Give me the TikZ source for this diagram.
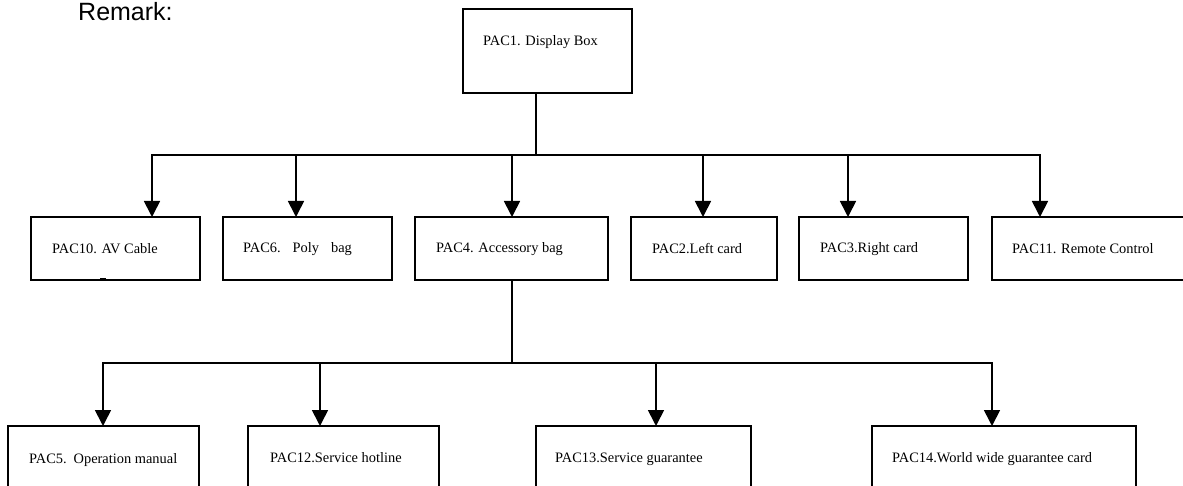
\documentclass[tikz,border=0pt]{standalone}
\usepackage{fontspec}
\setmainfont{Liberation Serif}
\newfontfamily\arialfont{Liberation Sans}
\usetikzlibrary{arrows.meta}
\tikzset{
  box/.style={draw, line width=1.7pt, inner sep=0pt, outer sep=0pt, anchor=north west},
  lbl/.style={anchor=west, inner sep=0pt, font=\fontsize{14.4}{17}\selectfont},
  conn/.style={line width=1.7pt},
  arr/.style={line width=1.7pt, -{Triangle[width=16pt,length=16pt]}},
}
\begin{document}
\begin{tikzpicture}[x=1pt,y=-1pt]
\useasboundingbox (0,0) rectangle (1183,486);
\clip (0,0) rectangle (1183,486);
\fill[white] (0,0) rectangle (1183,486);

\node[anchor=base west, inner sep=0pt, font=\arialfont\fontsize{25}{30}\selectfont] (remark) at (78,21) {Remark:};

% top box
\node[box, minimum width=169, minimum height=84] (pac1) at (463,9) {};
\node[lbl] (t1) at (483,42) {PAC1. Display Box};

% row 1
\node[box, minimum width=169, minimum height=63] (pac10) at (31,217) {};
\node[box, minimum width=169, minimum height=63] (pac6) at (223,217) {};
\node[box, minimum width=193, minimum height=63] (pac4) at (415,217) {};
\node[box, minimum width=146, minimum height=63] (pac2) at (631,217) {};
\node[box, minimum width=169, minimum height=63] (pac3) at (799,217) {};
\node[box, minimum width=200, minimum height=63] (pac11) at (992,217) {};
\node[lbl] (t10) at (52,249) {PAC10. AV Cable};
\node[lbl] (t6) at (243,249) {PAC6.\hspace{12pt}Poly\hspace{12pt}bag};
\node[lbl] (t4) at (436,249) {PAC4. Accessory bag};
\node[lbl] (t2) at (652,249) {PAC2.Left card};
\node[lbl] (t3) at (820,249) {PAC3.Right card};
\node[lbl] (t11) at (1012,249) {PAC11. Remote Control};
\fill (100,278.5) rectangle (106,281.5);

% row 2
\node[box, minimum width=191, minimum height=80] (pac5) at (8,426) {};
\node[box, minimum width=191, minimum height=80] (pac12) at (248,426) {};
\node[box, minimum width=215, minimum height=80] (pac13) at (536,426) {};
\node[box, minimum width=264, minimum height=80] (pac14) at (872,426) {};
\node[lbl] (t5) at (29,460) {PAC5.\hspace{7pt}Operation manual};
\node[lbl] (t12) at (270,458) {PAC12.Service hotline};
\node[lbl] (t13) at (555,459) {PAC13.Service guarantee};
\node[lbl] (t14) at (892,459) {PAC14.World wide guarantee card};

% level 1 connectors
\coordinate (c1) at (536,155);
\coordinate (a10) at (152,155);
\coordinate (a6) at (296,155);
\coordinate (a4) at (512,155);
\coordinate (a2) at (703,155);
\coordinate (a3) at (848,155);
\coordinate (a11) at (1040,155);
\draw[conn] (c1 |- pac1.south) -- (c1);
\draw[arr] (c1) -- (a10) -- (a10 |- pac10.north);
\draw[arr] (c1) -- (a11) -- (a11 |- pac11.north);
\draw[arr] (a6) -- (a6 |- pac6.north);
\draw[arr] (a4) -- (a4 |- pac4.north);
\draw[arr] (a2) -- (a2 |- pac2.north);
\draw[arr] (a3) -- (a3 |- pac3.north);

% level 2 connectors
\coordinate (c2) at (512,363);
\coordinate (b5) at (103,363);
\coordinate (b12) at (320,363);
\coordinate (b13) at (656,363);
\coordinate (b14) at (992,363);
\draw[conn] (c2 |- pac4.south) -- (c2);
\draw[arr] (c2) -- (b5) -- (b5 |- pac5.north);
\draw[arr] (c2) -- (b14) -- (b14 |- pac14.north);
\draw[arr] (b12) -- (b12 |- pac12.north);
\draw[arr] (b13) -- (b13 |- pac13.north);
\end{tikzpicture}
\end{document}
